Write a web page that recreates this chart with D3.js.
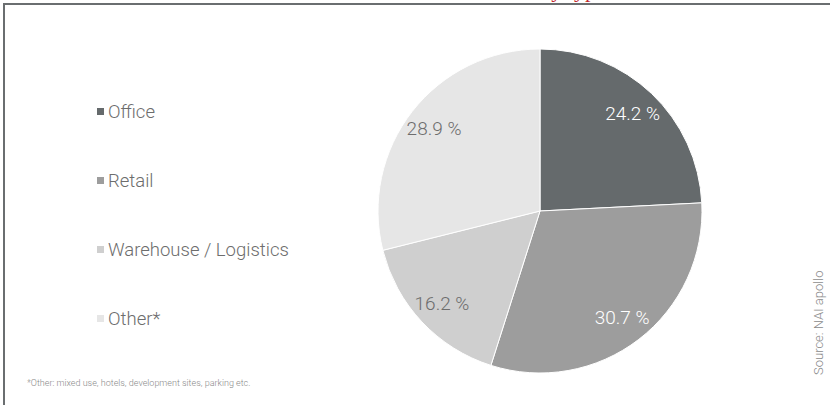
<!DOCTYPE html>
<html>
<head>
<meta charset="utf-8">
<script src="https://cdn.jsdelivr.net/npm/d3@7"></script>
<style>
  body { margin: 0; background: #fff; }
  text { font-family: Roboto, "Liberation Sans", Arial, sans-serif; font-weight: 300; }
</style>
</head>
<body>
<div id="chart"></div>
<script>
var categories = ['Office', 'Retail', 'Warehouse / Logistics', 'Other*'];
var shares = [24.2, 30.7, 16.2, 28.9];
var colors = ['#656a6c', '#9d9d9d', '#cfcfcf', '#e6e6e6'];
var label_colors = ['#ffffff', '#ffffff', '#6d6d6d', '#6d6d6d'];
var title = 'Investment volume by type of use';
var footnote = '*Other: mixed use, hotels, development sites, parking etc.';
var source = 'Source: NAI apollo';

var chart_width = 830;
var chart_height = 405;
var cx = 540;
var cy = 211;
var radius = 162;

var svg = d3.select('#chart')
    .append('svg')
    .attr('width', chart_width)
    .attr('height', chart_height);

var data = categories.map(function(c, i){
    return { name: c, value: shares[i], color: colors[i], label: label_colors[i] };
});

// Title (cut off at the top, only descenders visible)
svg.append('text')
    .attr('x', 515)
    .attr('y', -3)
    .attr('text-anchor', 'middle')
    .style('font-family', '"Liberation Serif", serif')
    .style('font-weight', 400)
    .style('font-size', '22px')
    .attr('fill', '#c0272d')
    .text(title);

// Frame
svg.append('path')
    .attr('d', 'M4,' + chart_height + 'V4H' + chart_width)
    .attr('fill', 'none')
    .attr('stroke', '#6a6e70')
    .attr('stroke-width', 2);

// Pie
var pie = d3.pie()
    .sort(null)
    .value(function(d){ return d.value; });

var arc = d3.arc()
    .innerRadius(0)
    .outerRadius(radius);

var label_arc = d3.arc()
    .innerRadius(radius * 0.83)
    .outerRadius(radius * 0.83);

var g = svg.append('g')
    .attr('transform', 'translate(' + cx + ',' + cy + ')');

var arcs = pie(data);

g.selectAll('path')
    .data(arcs)
    .enter()
    .append('path')
    .attr('d', arc)
    .attr('fill', function(d){ return d.data.color; })
    .attr('stroke', '#ffffff')
    .attr('stroke-width', 1);

g.selectAll('text.lbl')
    .data(arcs)
    .enter()
    .append('text')
    .attr('class', 'lbl')
    .attr('transform', function(d){ return 'translate(' + label_arc.centroid(d) + ')'; })
    .attr('text-anchor', 'middle')
    .attr('dy', '0.35em')
    .style('font-size', '19px')
    .attr('fill', function(d){ return d.data.label; })
    .text(function(d){ return d.data.value.toFixed(1) + ' %'; });

// Legend
var legend_y = d3.scalePoint()
    .domain(categories)
    .range([112, 319]);

var legend = svg.selectAll('g.legend')
    .data(data)
    .enter()
    .append('g')
    .attr('class', 'legend')
    .attr('transform', function(d){ return 'translate(97,' + legend_y(d.name) + ')'; });

legend.append('rect')
    .attr('x', 0)
    .attr('y', -4)
    .attr('width', 7)
    .attr('height', 7)
    .attr('fill', function(d){ return d.color; });

legend.append('text')
    .attr('x', 11)
    .attr('dy', '0.35em')
    .style('font-size', '18.5px')
    .attr('fill', '#6d6d6d')
    .text(function(d){ return d.name; });

// Footnote
svg.append('text')
    .attr('x', 27)
    .attr('y', 386)
    .style('font-size', '9px')
    .attr('fill', '#8a8a8a')
    .text(footnote);

// Source
svg.append('text')
    .attr('transform', 'translate(823,375) rotate(-90)')
    .style('font-size', '13px')
    .attr('fill', '#8a8a8a')
    .text(source);
</script>
</body>
</html>
